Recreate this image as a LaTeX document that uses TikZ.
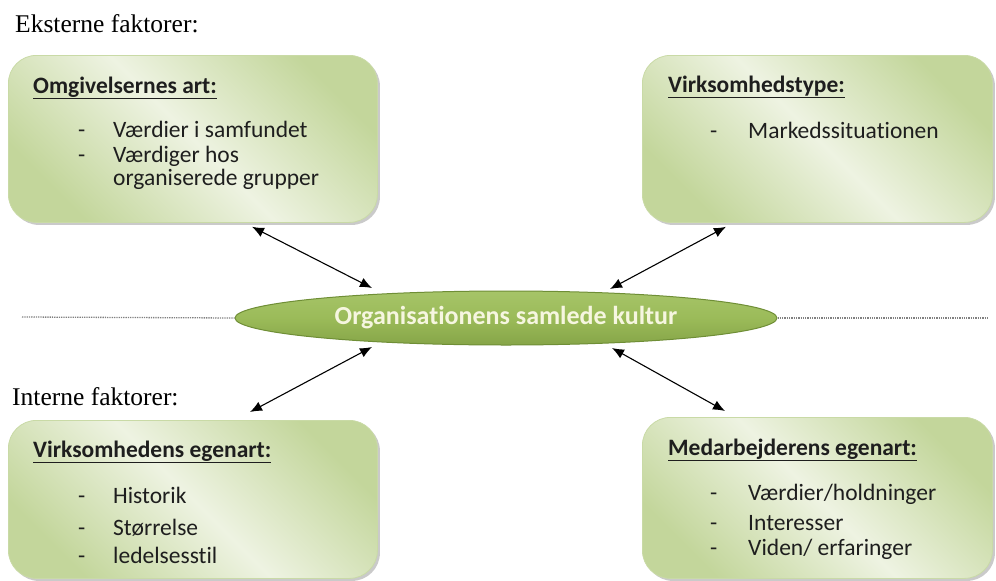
\documentclass[tikz,border=0pt]{standalone}
\usepackage{fontspec}
\setmainfont{Liberation Serif}
\newfontfamily\calib[Ligatures=NoCommon]{Carlito}
\usetikzlibrary{shapes.geometric,arrows.meta,shadows,calc}
\definecolor{boxdark}{HTML}{C3D69B}
\definecolor{boxlight}{HTML}{EEF3E2}
\definecolor{boxedge}{HTML}{C9DAA6}
\definecolor{ellfill}{HTML}{9BBB59}
\definecolor{elltop}{HTML}{A6C468}
\definecolor{ellbot}{HTML}{86A548}
\definecolor{elledge}{HTML}{6F8E36}
\definecolor{elltext}{HTML}{F6F6E0}
\definecolor{txt}{HTML}{1E1E1E}
\definecolor{dotc}{HTML}{808080}
\begin{document}
\begin{tikzpicture}[x=1pt,y=-1pt,
  factbox/.style={draw=boxedge, line width=0.8pt, rounded corners=28pt,
    top color=boxdark, bottom color=boxdark, middle color=boxlight, shading angle=-45,
    drop shadow={shadow xshift=2.5pt,shadow yshift=-2.5pt,opacity=0.35,fill=black!60},
    inner sep=0pt, anchor=north west},
  headtxt/.style={anchor=base west, inner sep=0pt, text=txt, font=\calib\bfseries\fontsize{23.5}{28}\selectfont},
  itemtxt/.style={anchor=base west, inner sep=0pt, text=txt, font=\calib\fontsize{23.5}{28}\selectfont},
  sectxt/.style={anchor=base west, inner sep=0pt, text=black, font=\fontsize{25.5}{30}\selectfont},
  biarrow/.style={line width=1.1pt, {Latex[length=12pt,width=10pt]}-{Latex[length=12pt,width=10pt]}},
  dotline/.style={draw=dotc, line width=1.3pt, densely dotted}
]
\path[use as bounding box] (0,0) rectangle (996,581);

% section labels
\node[sectxt] (ext) at (15,32) {Eksterne faktorer:};
\node[sectxt] (int) at (12,405) {Interne faktorer:};

% boxes
\node[factbox, minimum width=369pt, minimum height=167pt] (tl) at (8,55) {};
\node[factbox, minimum width=350pt, minimum height=167pt] (tr) at (642,55) {};
\node[factbox, minimum width=369pt, minimum height=158pt] (bl) at (8,420) {};
\node[factbox, minimum width=350pt, minimum height=161pt] (br) at (642,417) {};

% ellipse
\node[ellipse, minimum width=542pt, minimum height=54pt, inner sep=0pt,
      top color=elltop, bottom color=ellbot, middle color=ellfill, draw=elledge, line width=1pt,
      text=elltext, font=\calib\bfseries\fontsize{26}{30}\selectfont] (org) at (506,318)
      {Organisationens samlede kultur};

% dotted lines
\coordinate (dl) at (22,317);
\coordinate (dr) at (988,318);
\draw[dotline] (dl) -- (org.west);
\draw[dotline] (org.east) -- (dr);

% TL text
\node[headtxt] (tlh) at (33,93) {\underline{Omgivelsernes art:}};
\node[itemtxt] (tld1) at (78,137) {-};
\node[itemtxt] (tli1) at (113,137) {Værdier i samfundet};
\node[itemtxt] (tld2) at (78,162) {-};
\node[itemtxt] (tli2) at (113,162) {Værdiger hos};
\node[itemtxt] (tli3) at (113,185) {organiserede grupper};

% TR text
\node[headtxt] (trh) at (668,92) {\underline{Virksomhedstype:}};
\node[itemtxt] (trd1) at (710,138) {-};
\node[itemtxt] (tri1) at (748,138) {Markedssituationen};

% BL text
\node[headtxt] (blh) at (33,457) {\underline{Virksomhedens egenart:}};
\node[itemtxt] (bld1) at (78,503) {-};
\node[itemtxt] (bli1) at (113,503) {Historik};
\node[itemtxt] (bld2) at (78,535) {-};
\node[itemtxt] (bli2) at (113,535) {Størrelse};
\node[itemtxt] (bld3) at (78,563) {-};
\node[itemtxt] (bli3) at (113,563) {ledelsesstil};

% BR text
\node[headtxt] (brh) at (668,455) {\underline{Medarbejderens egenart:}};
\node[itemtxt] (brd1) at (710,500) {-};
\node[itemtxt] (bri1) at (748,500) {Værdier/holdninger};
\node[itemtxt] (brd2) at (710,530) {-};
\node[itemtxt] (bri2) at (748,530) {Interesser};
\node[itemtxt] (brd3) at (710,555) {-};
\node[itemtxt] (bri3) at (748,555) {Viden/ erfaringer};

% arrows
\draw[biarrow] ([shift={(244,4)}]tl.south west) -- ([shift={(-134,-30)}]org.center);
\draw[biarrow] ([shift={(84,4)}]tr.south west) -- ([shift={(104,-29)}]org.center);
\draw[biarrow] ([shift={(242,-8)}]bl.north west) -- ([shift={(-134,29)}]org.center);
\draw[biarrow] ([shift={(83,-6)}]br.north west) -- ([shift={(106,30)}]org.center);
\end{tikzpicture}
\end{document}
